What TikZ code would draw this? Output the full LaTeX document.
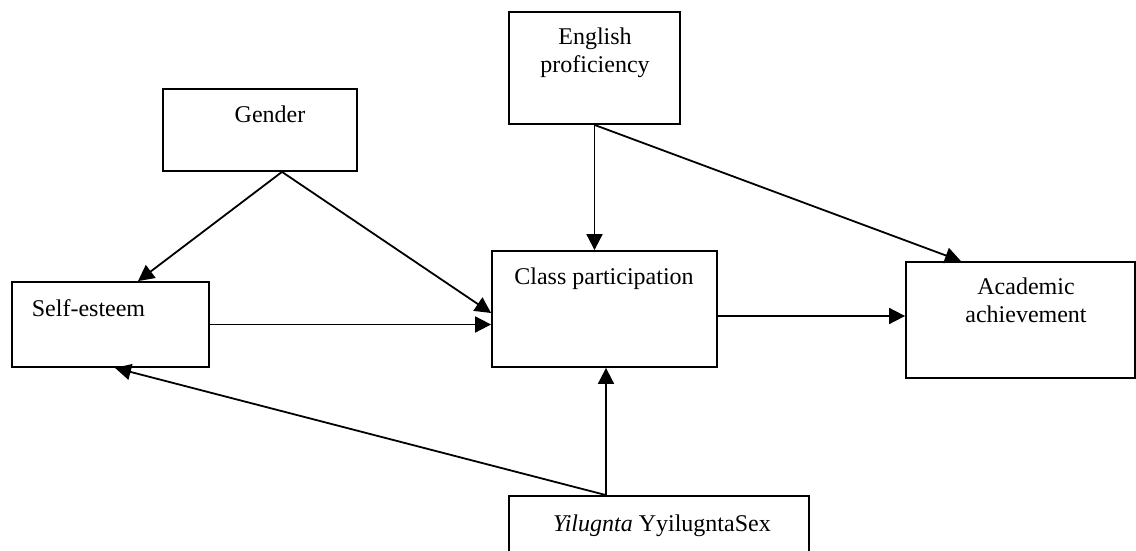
\documentclass[tikz,border=0pt]{standalone}
\usepackage{fontspec}
\setmainfont{Liberation Serif}
\usetikzlibrary{calc,arrows.meta}
\tikzset{
	box/.style={draw, rectangle, line width=0.9pt, inner sep=0pt},
	lbl/.style={anchor=base, inner sep=0pt, align=center, font=\fontsize{12}{14}\selectfont},
	arr/.style={line width=0.9pt, -{Triangle[length=8pt,width=8pt]}}
}

\begin{document}
\begin{tikzpicture}[x=0.5pt, y=-0.5pt]
				\useasboundingbox (0, 0) rectangle (1136, 551);
				\clip (0, 0) rectangle (1136, 551);
				
				\node[box, minimum width=97pt, minimum height=41pt] (gender) at (260, 130) {};
				\node[lbl] (genderlbl) at (270, 123) {Gender};
				
				\node[box, minimum width=85.5pt, minimum height=56pt] (english) at (594.5, 68) {};
				\node[lbl] (englishlbl) at (595, 73) {English\\proficiency};
				
				\node[box, minimum width=98.5pt, minimum height=42.5pt] (selfest) at (110.5, 324.5) {};
				\node[lbl] (selfestlbl) at (88.5, 316) {Self-esteem};
				
				\node[box, minimum width=112.5pt, minimum height=58pt] (class) at (604.5, 309) {};
				\node[lbl] (classlbl) at (604, 284) {Class participation};
				
				\node[box, minimum width=114.5pt, minimum height=58pt] (academic) at (1020.5, 320) {};
				\node[lbl] (academiclbl) at (1026, 322) {Academic\\achievement};
				
				\node[box, minimum width=150pt, minimum height=30pt] (yil) at (659, 526) {};
				\node[lbl] (yillbl) at (662, 531) {\textit{Yilugnta} YyilugntaSex};
				
				\coordinate (genderapex) at ($(gender.south)+(22, 0)$);
				\coordinate (classout) at ($(class.east)+(0, 7)$);
				\coordinate (yilup) at ($(yil.north)+(-53, 0)$);
				
				\draw[arr] (genderapex) -- ($(selfest.north)+(27.5, 0)$);
				\draw[arr] (genderapex) -- ($(class.west)+(0, 4)$);
				\draw[arr] (selfest.east) -- (selfest.east -| class.west);
				
				\draw[arr] (english.south) -- (english.south |- class.north);
				\draw[arr] (english.south) -- ($(academic.north)+(-59.5, 0)$);
				\draw[arr] (classout) -- (classout -| academic.west);
				
				\draw[arr] (yilup) -- (yilup |- class.south);
				\draw[arr] (yilup) -- ($(selfest.south)+(4.5, 0)$);
			\end{tikzpicture}
\end{document}
